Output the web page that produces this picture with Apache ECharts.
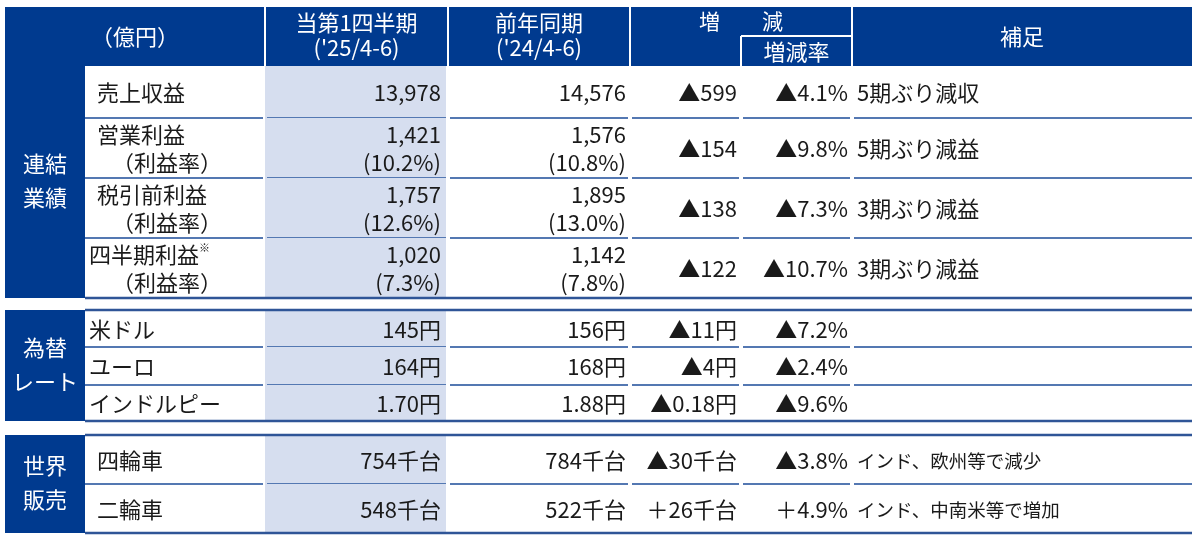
<!DOCTYPE html>
<html>
<head>
<meta charset="utf-8">
<script src="https://cdn.jsdelivr.net/npm/echarts@6/dist/echarts.min.js"></script>
<style>
html,body{margin:0;padding:0;background:#fff;}
#main{width:1200px;height:537px;}
</style>
</head>
<body>
<div id="main"></div>
<script>
// 表の中身
var groupNames=[['連結','業績'],['為替','レート'],['世界','販売']];
var rowLabels=['売上収益','営業利益','税引前利益','四半期利益※','米ドル','ユーロ','インドルピー','四輪車','二輪車'];
var ratioLabel='（利益率）';
var current=['13,978','1,421','1,757','1,020','145円','164円','1.70円','754千台','548千台'];
var currentRatio=['','(10.2%)','(12.6%)','(7.3%)','','','','',''];
var prior=['14,576','1,576','1,895','1,142','156円','168円','1.88円','784千台','522千台'];
var priorRatio=['','(10.8%)','(13.0%)','(7.8%)','','','','',''];
var diff=['▲599','▲154','▲138','▲122','▲11円','▲4円','▲0.18円','▲30千台','＋26千台'];
var diffRate=['▲4.1%','▲9.8%','▲7.3%','▲10.7%','▲7.2%','▲2.4%','▲9.6%','▲3.8%','＋4.9%'];
var notes=['5期ぶり減収','5期ぶり減益','3期ぶり減益','3期ぶり減益','','','','インド、欧州等で減少','インド、中南米等で増加'];
var headerCols=['（億円）','当第1四半期',"('25/4-6)",'前年同期',"('24/4-6)",'増　　減','増減率','補足'];

// レイアウト
var colX=[5,85,265,448,630,741,852,1192];
var headY=[7,66];
var groupY=[[66,298],[310,421],[435,533]];
var rowY=[[66,118],[118,178],[178,238],[238,298],[310,347],[347,385],[385,421],[435,484],[484,533]];
var rowGroup=[0,0,0,0,1,1,1,2,2];

var FONT='"Noto Sans CJK JP","Noto Sans CJK SC",sans-serif';
var FS=22;
var NAVY='#003a8f';
var LIGHT='#d6deef';
var ROWLINE='#5478b2';
var GROUPLINE='#2f5597';
var INK='#1a1a1a';

function txt(s,x,y,align,size,color){
	return {type:'text',style:{text:s,x:x,y:y,align:align||'left',verticalAlign:'middle',
		fill:color||INK,fontSize:size||FS,fontFamily:FONT}};
}
function line(x1,y1,x2,y2,color,w){
	return {type:'line',shape:{x1:x1,y1:y1,x2:x2,y2:y2},style:{stroke:color,lineWidth:w}};
}

//各行
function renderRow(params,api){
	var i=params.dataIndex;
	var y0=rowY[i][0],y1=rowY[i][1];
	var cy=(y0+y1)/2+1;
	var ch=[];
	ch.push({type:'rect',shape:{x:colX[2],y:y0,width:colX[3]-colX[2]-2,height:y1-y0},style:{fill:LIGHT}});
	// 行の区切り線（列の境目で少し切れる）
	if(i<rowLabels.length-1 && rowGroup[i+1]==rowGroup[i]){
		for(var c=1;c<colX.length-1;c++){
			var a=colX[c]+(c==1?0:2), b=colX[c+1]-(c==colX.length-2?0:2);
			ch.push(line(a,y1,b,y1,ROWLINE,2));
		}
	}
	var lx=(i>=3&&i<=6)?89:97;
	var label=rowLabels[i].replace('※','');
	var two=currentRatio[i]!=='';
	var ly=two?cy-14:cy;
	ch.push(txt(label,lx,ly,'left'));
	if(rowLabels[i].indexOf('※')>=0){
		ch.push(txt('※',lx+label.length*FS,ly-7,'left',11));
	}
	if(two){
		ch.push(txt(ratioLabel,112,cy+14,'left'));
		ch.push(txt(current[i],colX[3]-7,cy-14,'right'));
		ch.push(txt(currentRatio[i],colX[3]-7,cy+14,'right'));
		ch.push(txt(prior[i],colX[4]-4,cy-14,'right'));
		ch.push(txt(priorRatio[i],colX[4]-4,cy+14,'right'));
	}else{
		ch.push(txt(current[i],colX[3]-7,cy,'right'));
		ch.push(txt(prior[i],colX[4]-4,cy,'right'));
	}
	ch.push(txt(diff[i],colX[5]-4,cy,'right'));
	ch.push(txt(diffRate[i],colX[6]-4,cy,'right'));
	if(notes[i]){
		ch.push(txt(notes[i],colX[6]+5,cy,'left',i>=7?18.5:FS));
	}
	return {type:'group',children:ch};
}

//グループ（左の紺色の欄と上下の線）
function renderGroup(params,api){
	var g=params.dataIndex;
	var y0=groupY[g][0],y1=groupY[g][1];
	var cy=(y0+y1)/2-1;
	var ch=[];
	ch.push({type:'rect',shape:{x:colX[0],y:y0,width:colX[1]-colX[0],height:y1-y0},style:{fill:NAVY}});
	if(g>0) ch.push(line(colX[1],y0,colX[7],y0,GROUPLINE,2.5));
	ch.push(line(colX[1],y1,colX[7],y1,GROUPLINE,2.5));
	ch.push(txt(groupNames[g][0],(colX[0]+colX[1])/2,cy-17,'center',FS,'#fff'));
	ch.push(txt(groupNames[g][1],(colX[0]+colX[1])/2,cy+17,'center',FS,'#fff'));
	return {type:'group',children:ch};
}

//見出し
var head=[];
head.push({type:'rect',shape:{x:colX[0],y:headY[0],width:colX[7]-colX[0],height:headY[1]-headY[0]},style:{fill:NAVY}});
[2,3,4,6].forEach(function(c){
	head.push(line(colX[c],headY[0],colX[c],headY[1],'#fff',2));
});
head.push(line(colX[5],36,colX[6],36,'#fff',2));
head.push(line(colX[5],36,colX[5],headY[1],'#fff',2));
head.push(txt(headerCols[0],(colX[0]+colX[2])/2,37,'center',FS,'#fff'));
head.push(txt(headerCols[1],(colX[2]+colX[3])/2,23,'center',FS,'#fff'));
head.push(txt(headerCols[2],(colX[2]+colX[3])/2,48,'center',FS,'#fff'));
head.push(txt(headerCols[3],(colX[3]+colX[4])/2,23,'center',FS,'#fff'));
head.push(txt(headerCols[4],(colX[3]+colX[4])/2,48,'center',FS,'#fff'));
head.push(txt(headerCols[5],(colX[4]+colX[6])/2,21,'center',21,'#fff'));
head.push(txt(headerCols[6],(colX[5]+colX[6])/2,52,'center',FS,'#fff'));
head.push(txt(headerCols[7],(colX[6]+colX[7])/2,37,'center',FS,'#fff'));
head.forEach(function(h){h.silent=true;});

var option={
	backgroundColor:'#fff',
	animation:false,
	graphic:{elements:head},
	series:[
		{
			type:'custom',
			coordinateSystem:'none',
			renderItem:renderRow,
			data:rowLabels.map(function(d,i){return i;}),
			z:2
		},
		{
			type:'custom',
			coordinateSystem:'none',
			renderItem:renderGroup,
			data:groupNames.map(function(d,i){return i;}),
			z:3
		}
	]
};
var myChart=echarts.init(document.getElementById('main'),null,{renderer:'canvas'});
myChart.setOption(option);
</script>
</body>
</html>
